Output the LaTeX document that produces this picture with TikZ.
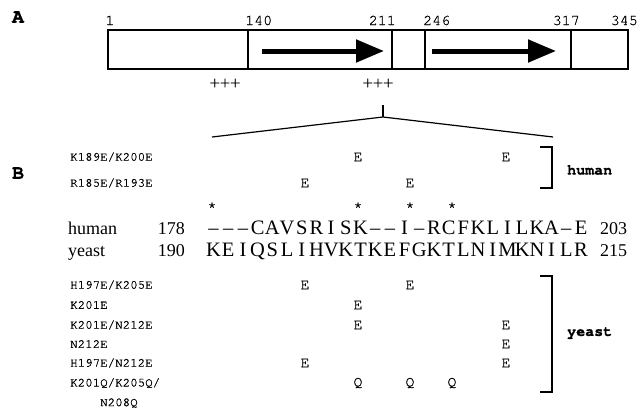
\documentclass[tikz,border=0pt]{standalone}
\usepackage{fontspec}
\setmainfont{Liberation Serif}
\newfontfamily\cour{TeX Gyre Cursor}[FakeBold=0.8]
\usetikzlibrary{arrows.meta}
\newlength\cellw
\setlength\cellw{14.7pt}
\def\gridseq#1{\gridloop#1\relax}
\def\gridloop#1{\ifx#1\relax\else\makebox[\cellw]{\ifx#1-\textendash\else#1\fi}\expandafter\gridloop\fi}
\tikzset{
  num/.style={font=\cour\fontsize{15}{15}\selectfont, inner sep=0},
  plus/.style={font=\cour\fontsize{17}{17}\selectfont, inner sep=0},
  panel/.style={font=\cour\bfseries\fontsize{20}{20}\selectfont, inner sep=0},
  lab/.style={font=\cour\fontsize{12.5}{12.5}\selectfont, anchor=west, inner sep=0},
  mk/.style={font=\cour\fontsize{15}{15}\selectfont, inner sep=0},
  star/.style={font=\cour\fontsize{15}{15}\selectfont, inner sep=0},
  grp/.style={font=\cour\bfseries\fontsize{15}{15}\selectfont, anchor=west, inner sep=0},
  seqtxt/.style={font=\fontsize{20.5}{20.5}\selectfont, inner sep=0, anchor=base west},
  rowtxt/.style={font=\fontsize{18}{18}\selectfont, inner sep=0},
  bar/.style={line width=1.4pt},
  bigarrow/.style={line width=5pt, -{Triangle[length=28pt, width=22pt]}}
}
\begin{document}
\begin{tikzpicture}[x=1pt, y=-1pt]
\fill[white] (0,0) rectangle (642,415);
\useasboundingbox (0,0) rectangle (642,415);
% panel A
\node[panel] (A) at (18,17) {A};
\node[num, anchor=base] (n1) at (110,25) {1};
\node[num, anchor=base west] (n140) at (245,25) {140};
\node[num, anchor=base east] (n211) at (396,25) {211};
\node[num, anchor=base west] (n246) at (423,25) {246};
\node[num, anchor=base east] (n317) at (580,25) {317};
\node[num, anchor=base east] (n345) at (638,25) {345};
\draw[bar] (108,30) rectangle (628,69);
\draw[line width=1.2pt] (248,30) -- (248,69);
\draw[line width=1.2pt] (392,30) -- (392,69);
\draw[line width=1.2pt] (425,30) -- (425,69);
\draw[line width=1.2pt] (571,30) -- (571,69);
\coordinate (a1s) at (262,51);
\coordinate (a1e) at (384,51);
\coordinate (a2s) at (432,51);
\coordinate (a2e) at (556,51);
\draw[bigarrow] (a1s) -- (a1e);
\draw[bigarrow] (a2s) -- (a2e);
\node[plus] (p1) at (225,83) {+++};
\node[plus] (p2) at (378,83) {+++};
\coordinate (tkt) at (383,105);
\coordinate (tk) at (383,117);
\coordinate (zl) at (212,137);
\coordinate (zr) at (553,137);
\draw[line width=1.2pt] (tkt) -- (tk);
\draw[line width=1.2pt] (zl) -- (tk) -- (zr);
% panel B
\node[panel] (B) at (18,173) {B};
\node[lab] (m1) at (70,157) {K189E/K200E};
\node[lab] (m2) at (70,183) {R185E/R193E};
\node[mk] at (358,157) {E};
\node[mk] at (506,157) {E};
\node[mk] at (305,183) {E};
\node[mk] at (410,183) {E};
\draw[bar] (540,147) -- (552,147) -- (552,188) -- (540,188);
\node[grp] (gh) at (567,170) {human};
\node[star] at (212,207) {*};
\node[star] at (358,207) {*};
\node[star] at (410,207) {*};
\node[star] at (452,207) {*};
\node[rowtxt, anchor=base west] (hl) at (68,234) {human};
\node[rowtxt, anchor=base east] (hn1) at (185,234) {178};
\node[seqtxt] (hs) at (206,234) {\gridseq{---CAVSRISK--I-RCFKLILKA-E}};
\node[rowtxt, anchor=base west] (hn2) at (600,234) {203};
\node[rowtxt, anchor=base west] (yl) at (68,256) {yeast};
\node[rowtxt, anchor=base east] (yn1) at (185,256) {190};
\node[seqtxt] (ys) at (206,256) {\gridseq{KEIQSLIHVKTKEFGKTLNIMKNILR}};
\node[rowtxt, anchor=base west] (yn2) at (600,256) {215};
\node[lab] (y1) at (70,285) {H197E/K205E};
\node[lab] (y2) at (70,305) {K201E};
\node[lab] (y3) at (70,325) {K201E/N212E};
\node[lab] (y4) at (70,344) {N212E};
\node[lab] (y5) at (70,363) {H197E/N212E};
\node[lab] (y6) at (70,383) {K201Q/K205Q/};
\node[lab] (y7) at (100,403) {N208Q};
\node[mk] at (305,285) {E};
\node[mk] at (410,285) {E};
\node[mk] at (358,305) {E};
\node[mk] at (358,325) {E};
\node[mk] at (506,325) {E};
\node[mk] at (506,344) {E};
\node[mk] at (305,363) {E};
\node[mk] at (506,363) {E};
\node[mk] at (358,383) {Q};
\node[mk] at (410,383) {Q};
\node[mk] at (452,383) {Q};
\draw[bar] (540,276) -- (552,276) -- (552,392) -- (540,392);
\node[grp] (gy) at (567,333) {yeast};
\end{tikzpicture}
\end{document}
